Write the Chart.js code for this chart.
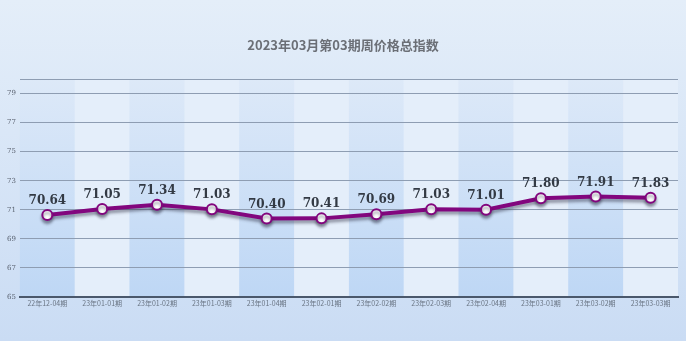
<!DOCTYPE html>
<html>
<head>
<meta charset="utf-8">
<script src="https://cdn.jsdelivr.net/npm/chart.js@4/dist/chart.umd.min.js"></script>
<style>
  html, body { margin: 0; padding: 0; }
  body { width: 686px; height: 341px; background: linear-gradient(#e4eef9, #cadcf4); }
  #wrap { width: 686px; height: 341px; position: relative; }
</style>
</head>
<body>
<div id="wrap"><canvas id="priceChart"></canvas></div>
<script>
// 周期标签
const periods = ['22年12-04期', '23年01-01期', '23年01-02期', '23年01-03期', '23年01-04期', '23年02-01期',
                 '23年02-02期', '23年02-03期', '23年02-04期', '23年03-01期', '23年03-02期', '23年03-03期'];
// 总指数
const indexValues = [70.64, 71.05, 71.34, 71.03, 70.40, 70.41, 70.69, 71.03, 71.01, 71.80, 71.91, 71.83];
// 纵轴刻度
const yTicks = [65, 67, 69, 71, 73, 75, 77, 79];
const yMin = 65, yMax = 80;

const titleText = '2023年03月第03期周价格总指数';

// 背景 + 交替色带 + 标题 + 标签
const bandsPlugin = {
    id: 'bands',
    beforeDraw(chart) {
        const { ctx, chartArea, scales } = chart;
        const x = scales.x;
        const half = (x.getPixelForValue(1) - x.getPixelForValue(0)) / 2;
        ctx.save();
        periods.forEach((p, i) => {
            const cx = x.getPixelForValue(i);
            let fill;
            if (i % 2 === 0) {
                fill = ctx.createLinearGradient(0, chartArea.top, 0, chartArea.bottom);
                fill.addColorStop(0, '#dde9f8');
                fill.addColorStop(1, '#bed7f5');
            } else {
                fill = '#e4eefa';
            }
            ctx.fillStyle = fill;
            ctx.fillRect(cx - half, chartArea.top, half * 2, chartArea.bottom - chartArea.top);
        });
        // 标题
        ctx.fillStyle = '#6b6f76';
        ctx.font = 'bold 13px "Noto Sans CJK SC", sans-serif';
        ctx.textAlign = 'center';
        ctx.textBaseline = 'middle';
        ctx.fillText(titleText, 343, 45);
        ctx.restore();
    },
    beforeDatasetDraw(chart) {
        const ctx = chart.ctx;
        ctx.save();
        ctx.shadowColor = 'rgba(40,40,60,0.45)';
        ctx.shadowBlur = 3;
        ctx.shadowOffsetY = 3;
    },
    afterDatasetDraw(chart) {
        chart.ctx.restore();
    },
    afterDatasetsDraw(chart) {
        const { ctx, chartArea, scales } = chart;
        const meta = chart.getDatasetMeta(0);
        ctx.save();
        ctx.fillStyle = '#333a44';
        ctx.font = 'bold 12px "DejaVu Serif", serif';
        ctx.textAlign = 'center';
        ctx.textBaseline = 'alphabetic';
        meta.data.forEach((pt, i) => {
            ctx.fillText(indexValues[i].toFixed(2), pt.x, pt.y - 11);
        });
        // 横轴标签
        ctx.fillStyle = '#6a7584';
        ctx.font = '7px "Noto Sans CJK SC", sans-serif';
        ctx.textBaseline = 'middle';
        periods.forEach((p, i) => {
            ctx.fillText(p, scales.x.getPixelForValue(i), chartArea.bottom + 6);
        });
        ctx.restore();
    }
};

new Chart(document.getElementById('priceChart'), {
    type: 'line',
    data: {
        labels: periods,
        datasets: [{
            data: indexValues,
            borderColor: '#82067e',
            borderWidth: 4,
            pointRadius: 5,
            pointBorderWidth: 2,
            pointBackgroundColor: '#ffffff',
            pointBorderColor: '#82067e',
            tension: 0
        }]
    },
    options: {
        responsive: true,
        maintainAspectRatio: false,
        animation: false,
        layout: { padding: { top: 79, right: 8, left: 3, bottom: 36 } },
        plugins: { legend: { display: false }, tooltip: { enabled: false } },
        scales: {
            x: {
                offset: true,
                grid: { display: false },
                border: { color: '#4a586c', width: 2 },
                ticks: { display: false }
            },
            y: {
                min: yMin,
                max: yMax,
                afterBuildTicks(axis) {
                    axis.ticks = yTicks.concat([yMax]).map(v => ({ value: v }));
                },
                grid: { color: '#8e9db2', lineWidth: 1, drawTicks: false },
                border: { display: false },
                ticks: {
                    color: '#5a6270',
                    font: { size: 7, family: '"DejaVu Serif", serif' },
                    padding: 4,
                    callback: v => (yTicks.includes(v) ? v : '')
                }
            }
        }
    },
    plugins: [bandsPlugin]
});
</script>
</body>
</html>
